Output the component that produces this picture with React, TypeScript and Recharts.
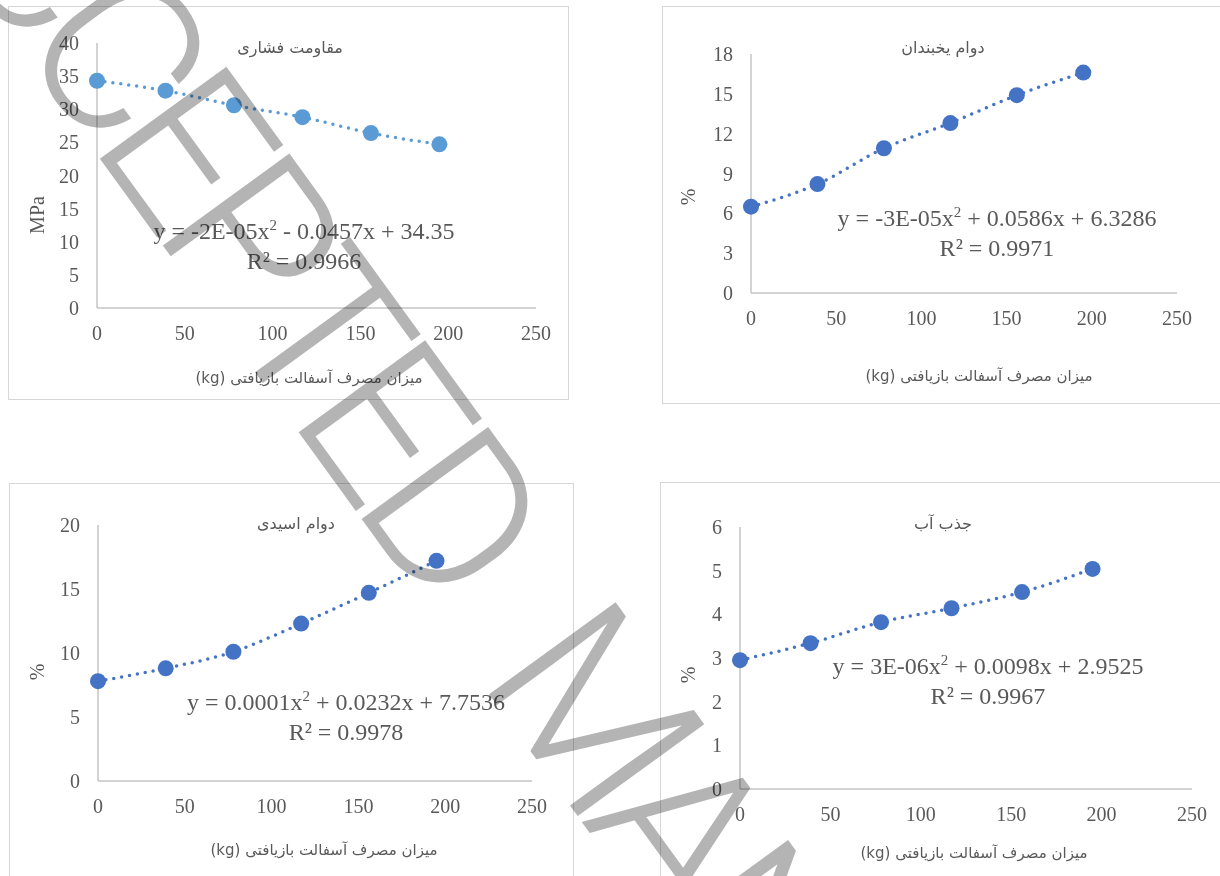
import React from 'react';
import { LineChart, Line, XAxis, YAxis } from 'recharts';

// recycled asphalt content (kg)
const asphaltKg = [0, 39, 78, 117, 156, 195];
const xTicks = [0, 50, 100, 150, 200, 250];

// compressive strength (MPa)
const compressive = [34.3, 32.8, 30.6, 28.8, 26.4, 24.7];
const compressiveTicks = [0, 5, 10, 15, 20, 25, 30, 35, 40];

// freeze-thaw durability (%)
const freezeThaw = [6.5, 8.2, 10.9, 12.8, 14.9, 16.6];
const freezeThawTicks = [0, 3, 6, 9, 12, 15, 18];

// acid durability (%)
const acid = [7.8, 8.8, 10.1, 12.3, 14.7, 17.2];
const acidTicks = [0, 5, 10, 15, 20];

// water absorption (%)
const absorption = [2.95, 3.34, 3.82, 4.14, 4.51, 5.04];
const absorptionTicks = [0, 1, 2, 3, 4, 5, 6];

const xTitle = 'میزان مصرف آسفالت بازیافتی (kg)';
const GREY = '#595959';
const AXIS = '#c4c4c4';
const SERIF = '"Liberation Serif", "Times New Roman", serif';
const PERSIAN = '"DejaVu Sans", sans-serif';

type Box = { x: number; y: number; w: number; h: number };
type Plot = { l: number; r: number; t: number; b: number };
type Pt = { x: number; y: number };

function Centered({ at, children, style }: { at: Pt; children: React.ReactNode; style?: React.CSSProperties }) {
  return (
    <div
      style={{
        position: 'absolute',
        left: at.x,
        top: at.y,
        transform: 'translate(-50%, -50%)',
        whiteSpace: 'nowrap',
        color: GREY,
        ...style,
      }}
    >
      {children}
    </div>
  );
}

function Panel(props: {
  box: Box;
  plot: Plot;
  values: number[];
  ticks: number[];
  color: string;
  title: string;
  titleAt: Pt;
  yLabel: string;
  yLabelAt: Pt;
  xTitleAt: Pt;
  eqA: string;
  eqB: string;
  r2: string;
  eqAt: Pt;
}) {
  const { box, plot, values, ticks, color } = props;
  const data = asphaltKg.map((x, i) => ({ x, y: values[i] }));
  const YW = 60;
  const XH = 40;
  const top = 12;
  const right = 30;
  const width = plot.r - plot.l + YW + right;
  const height = plot.b - plot.t + top + XH;
  const tick = { fill: GREY, fontSize: 20, fontFamily: SERIF };
  return (
    <>
      <div
        style={{
          position: 'absolute',
          left: box.x,
          top: box.y,
          width: box.w,
          height: box.h,
          border: '1.5px solid #d6d6d6',
          boxSizing: 'border-box',
          background: '#fff',
        }}
      />
      <div style={{ position: 'absolute', left: plot.l - YW, top: plot.t - top }}>
        <LineChart width={width} height={height} data={data} margin={{ top, right, bottom: 0, left: 0 }}>
          <XAxis
            type="number"
            dataKey="x"
            domain={[0, 250]}
            ticks={xTicks}
            height={XH}
            axisLine={{ stroke: AXIS, strokeWidth: 1.5 }}
            tickLine={false}
            tickSize={0}
            tickMargin={18}
            tick={tick}
          />
          <YAxis
            type="number"
            domain={[0, ticks[ticks.length - 1]]}
            ticks={ticks}
            width={YW}
            axisLine={{ stroke: AXIS, strokeWidth: 1.5 }}
            tickLine={false}
            tickSize={0}
            tickMargin={18}
            tick={tick}
          />
          <Line
            type="monotone"
            dataKey="y"
            stroke={color}
            strokeWidth={3.5}
            strokeDasharray="0 8"
            strokeLinecap="round"
            isAnimationActive={false}
            dot={(p: any) => <circle key={p.index} cx={p.cx} cy={p.cy} r={8} fill={color} />}
          />
        </LineChart>
      </div>
      <Centered at={props.titleAt} style={{ fontFamily: PERSIAN, fontSize: 16, direction: 'rtl' }}>
        {props.title}
      </Centered>
      <Centered at={props.xTitleAt} style={{ fontFamily: PERSIAN, fontSize: 15, direction: 'rtl' }}>
        {xTitle}
      </Centered>
      <Centered
        at={props.yLabelAt}
        style={{ fontFamily: SERIF, fontSize: 20, transform: 'translate(-50%, -50%) rotate(-90deg)' }}
      >
        {props.yLabel}
      </Centered>
      <Centered at={props.eqAt} style={{ fontFamily: SERIF, fontSize: 24, lineHeight: '27px', textAlign: 'center' }}>
        <div>
          {props.eqA}
          <span style={{ fontSize: 15, position: 'relative', top: -9 }}>2</span>
          {props.eqB}
        </div>
        <div>{props.r2}</div>
      </Centered>
    </>
  );
}

export default function App() {
  return (
    <div
      style={{
        position: 'absolute',
        left: 0,
        top: 0,
        width: 1220,
        height: 876,
        overflow: 'hidden',
        background: '#fff',
      }}
    >
      <Panel
        box={{ x: 8, y: 6, w: 561, h: 394 }}
        plot={{ l: 97, r: 536, t: 43, b: 308 }}
        values={compressive}
        ticks={compressiveTicks}
        color="#5B9BD5"
        title="مقاومت فشاری"
        titleAt={{ x: 290, y: 47 }}
        yLabel="MPa"
        yLabelAt={{ x: 37, y: 215 }}
        xTitleAt={{ x: 309, y: 378 }}
        eqA="y = -2E-05x"
        eqB=" - 0.0457x + 34.35"
        r2="R² = 0.9966"
        eqAt={{ x: 304, y: 246 }}
      />
      <Panel
        box={{ x: 662, y: 6, w: 600, h: 398 }}
        plot={{ l: 751, r: 1177, t: 54, b: 293 }}
        values={freezeThaw}
        ticks={freezeThawTicks}
        color="#4472C4"
        title="دوام یخبندان"
        titleAt={{ x: 943, y: 47 }}
        yLabel="%"
        yLabelAt={{ x: 688, y: 197 }}
        xTitleAt={{ x: 979, y: 376 }}
        eqA="y = -3E-05x"
        eqB=" + 0.0586x + 6.3286"
        r2="R² = 0.9971"
        eqAt={{ x: 997, y: 233 }}
      />
      <Panel
        box={{ x: 9, y: 483, w: 565, h: 450 }}
        plot={{ l: 98, r: 532, t: 525, b: 781 }}
        values={acid}
        ticks={acidTicks}
        color="#4472C4"
        title="دوام اسیدی"
        titleAt={{ x: 296, y: 523 }}
        yLabel="%"
        yLabelAt={{ x: 37, y: 672 }}
        xTitleAt={{ x: 324, y: 850 }}
        eqA="y = 0.0001x"
        eqB=" + 0.0232x + 7.7536"
        r2="R² = 0.9978"
        eqAt={{ x: 346, y: 717 }}
      />
      <Panel
        box={{ x: 660, y: 482, w: 600, h: 450 }}
        plot={{ l: 740, r: 1192, t: 527, b: 789 }}
        values={absorption}
        ticks={absorptionTicks}
        color="#4472C4"
        title="جذب آب"
        titleAt={{ x: 943, y: 523 }}
        yLabel="%"
        yLabelAt={{ x: 688, y: 675 }}
        xTitleAt={{ x: 974, y: 853 }}
        eqA="y = 3E-06x"
        eqB=" + 0.0098x + 2.9525"
        r2="R² = 0.9967"
        eqAt={{ x: 988, y: 681 }}
      />
      <svg
        width={1220}
        height={876}
        style={{ position: 'absolute', left: 0, top: 0, pointerEvents: 'none', mixBlendMode: 'multiply' }}
      >
        <text
          x={0}
          y={0}
          transform="translate(-128,-155) rotate(54)"
          fontFamily="Roboto, sans-serif"
          fontWeight={300}
          fontSize={220}
          fill="#b4b4b4"
          letterSpacing={-18}
        >
          <tspan>ACCEPTED</tspan>
          <tspan dx={55}> MANUSCRIPT</tspan>
        </text>
      </svg>
    </div>
  );
}
